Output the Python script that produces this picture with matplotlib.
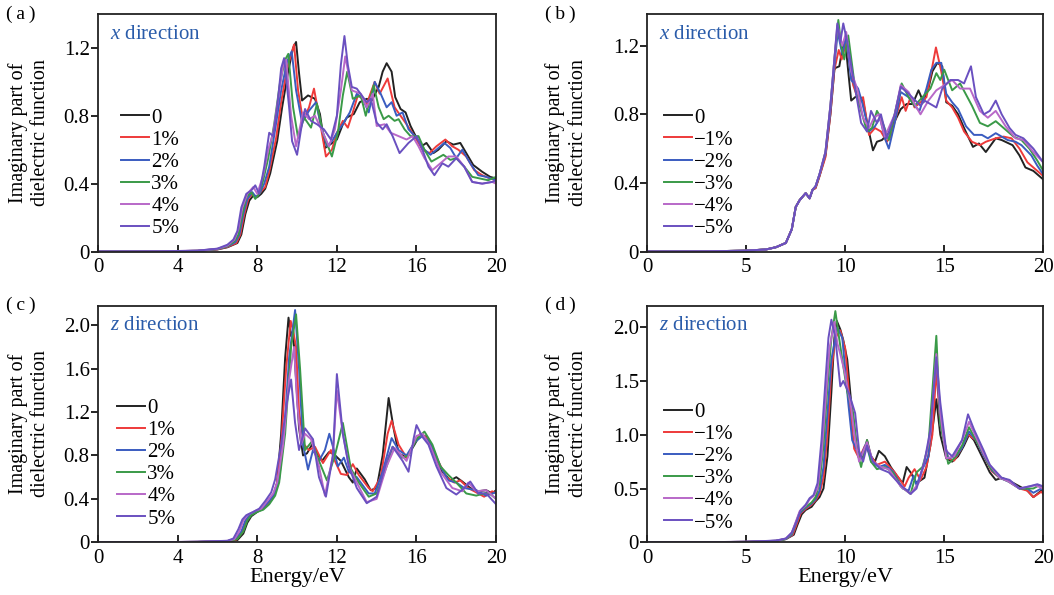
import matplotlib
matplotlib.use('Agg')
from matplotlib import pyplot as plt
from matplotlib.ticker import FuncFormatter

plt.rcParams['font.family'] = ['Liberation Serif', 'DejaVu Serif']
plt.rcParams['mathtext.fontset'] = 'custom'
plt.rcParams['mathtext.rm'] = 'Liberation Serif'
plt.rcParams['mathtext.it'] = 'Liberation Serif:italic'

colors = ['#222222', '#ee3a3a', '#3a5cc0', '#3a9a48', '#b868c8', '#6a50c0']
labels_t = ['0', '1%', '2%', '3%', '4%', '5%']
labels_c = ['0', '\u22121%', '\u22122%', '\u22123%', '\u22124%', '\u22125%']

# (a) x direction, tensile strain
a0 = [(0,0),(3,0.001),(5,0.004),(6,0.012),(6.5,0.025),(7.0,0.05),(7.2,0.1),(7.4,0.22),(7.6,0.3),(7.8,0.33),(8.0,0.32),(8.2,0.34),(8.4,0.37),(8.65,0.46),(9.0,0.65),(9.25,0.85),(9.55,1.06),(9.8,1.2),(9.95,1.235),(10.1,1.05),(10.25,0.89),(10.55,0.92),(10.9,0.9),(11.15,0.81),(11.4,0.61),(11.65,0.63),(12.0,0.66),(12.3,0.75),(12.5,0.79),(12.85,0.81),(13.15,0.88),(13.5,0.9),(13.75,0.89),(14.1,0.97),(14.3,1.06),(14.5,1.11),(14.75,1.06),(14.93,0.91),(15.2,0.84),(15.45,0.82),(15.7,0.74),(16.0,0.67),(16.25,0.62),(16.5,0.64),(16.85,0.58),(17.1,0.6),(17.5,0.65),(17.85,0.63),(18.2,0.64),(18.45,0.59),(18.85,0.51),(19.3,0.47),(19.7,0.44),(20,0.43)]
a1 = [(0,0),(3,0.001),(5,0.004),(6,0.013),(6.5,0.027),(6.95,0.05),(7.15,0.1),(7.35,0.22),(7.55,0.31),(7.75,0.34),(7.95,0.32),(8.15,0.35),(8.4,0.38),(8.6,0.47),(8.95,0.67),(9.2,0.88),(9.5,1.08),(9.85,1.22),(10.05,0.95),(10.3,0.77),(10.6,0.85),(10.85,0.96),(11.1,0.8),(11.45,0.56),(11.75,0.6),(12.0,0.7),(12.3,0.77),(12.55,0.73),(12.8,0.82),(13.05,0.92),(13.3,0.9),(13.5,0.87),(13.9,1.0),(14.15,0.93),(14.55,1.02),(14.9,0.85),(15.2,0.8),(15.5,0.75),(15.9,0.68),(16.3,0.6),(16.65,0.58),(17.0,0.62),(17.45,0.66),(17.8,0.62),(18.1,0.6),(18.5,0.56),(18.9,0.48),(19.3,0.45),(19.7,0.43),(20,0.42)]
a2 = [(0,0),(3,0.001),(5,0.004),(6,0.014),(6.5,0.03),(6.9,0.055),(7.1,0.1),(7.3,0.22),(7.5,0.31),(7.75,0.35),(7.95,0.32),(8.15,0.35),(8.35,0.4),(8.6,0.5),(8.9,0.72),(9.2,0.95),(9.5,1.12),(9.73,1.18),(9.95,0.95),(10.25,0.76),(10.6,0.83),(10.95,0.88),(11.2,0.74),(11.5,0.62),(11.75,0.65),(12.0,0.7),(12.3,0.75),(12.65,0.82),(13.0,0.93),(13.3,0.9),(13.6,0.82),(13.75,0.9),(13.9,1.0),(14.2,0.93),(14.5,0.85),(14.75,0.88),(15.0,0.8),(15.3,0.82),(15.6,0.72),(16.0,0.67),(16.4,0.6),(16.7,0.57),(17.0,0.6),(17.4,0.64),(17.7,0.61),(18.0,0.55),(18.3,0.6),(18.7,0.52),(19.1,0.45),(19.5,0.44),(20,0.42)]
a3 = [(0,0),(3,0.001),(5,0.004),(6,0.015),(6.5,0.032),(6.85,0.06),(7.05,0.1),(7.25,0.22),(7.45,0.32),(7.7,0.35),(7.9,0.31),(8.1,0.34),(8.3,0.42),(8.55,0.55),(8.85,0.75),(9.15,1.0),(9.4,1.13),(9.56,1.165),(9.8,0.85),(10.05,0.67),(10.35,0.79),(10.7,0.73),(11.0,0.87),(11.3,0.7),(11.75,0.56),(12.05,0.7),(12.3,0.92),(12.52,1.06),(12.8,0.9),(13.2,0.92),(13.45,0.8),(13.85,0.98),(14.1,0.85),(14.35,0.78),(14.6,0.8),(14.9,0.77),(15.1,0.78),(15.4,0.72),(15.7,0.68),(16.1,0.68),(16.4,0.6),(16.75,0.53),(17.05,0.55),(17.35,0.57),(17.7,0.54),(18.0,0.55),(18.4,0.5),(18.8,0.44),(19.2,0.43),(19.6,0.42),(20,0.44)]
a4 = [(0,0),(3,0.001),(5,0.005),(6,0.016),(6.5,0.035),(6.85,0.07),(7.05,0.13),(7.25,0.26),(7.5,0.34),(7.8,0.38),(8.0,0.34),(8.3,0.45),(8.55,0.6),(8.8,0.7),(9.05,0.9),(9.3,1.1),(9.45,1.13),(9.7,0.8),(9.95,0.62),(10.3,0.82),(10.6,0.78),(10.9,0.8),(11.3,0.7),(11.6,0.62),(11.9,0.72),(12.2,0.95),(12.42,1.15),(12.75,0.95),(13.2,0.93),(13.5,0.85),(13.8,0.93),(14.0,0.74),(14.4,0.75),(14.7,0.7),(15.1,0.68),(15.5,0.66),(15.8,0.68),(16.1,0.62),(16.4,0.55),(16.8,0.48),(17.2,0.52),(17.6,0.56),(18.0,0.56),(18.4,0.5),(18.8,0.41),(19.3,0.4),(19.8,0.41),(20,0.4)]
a5 = [(0,0),(3,0.001),(5,0.005),(6,0.017),(6.5,0.04),(6.8,0.07),(7.0,0.12),(7.2,0.26),(7.45,0.34),(7.7,0.36),(7.9,0.39),(8.1,0.34),(8.35,0.5),(8.6,0.7),(8.8,0.68),(9.0,0.85),(9.2,1.08),(9.35,1.14),(9.6,0.85),(9.75,0.65),(10.0,0.57),(10.2,0.72),(10.4,0.84),(10.7,0.77),(11.0,0.75),(11.35,0.72),(11.7,0.66),(12.0,0.8),(12.2,1.1),(12.38,1.27),(12.55,1.1),(12.75,0.97),(13.0,0.96),(13.5,0.88),(13.7,0.9),(14.0,0.76),(14.3,0.72),(14.5,0.75),(14.8,0.68),(15.15,0.58),(15.6,0.64),(16.0,0.68),(16.3,0.6),(16.6,0.5),(16.9,0.45),(17.3,0.52),(17.6,0.5),(18.0,0.55),(18.4,0.5),(18.8,0.41),(19.3,0.4),(19.8,0.41),(20,0.42)]

# (b) x direction, compressive strain
b0 = [(0,0),(3,0.001),(5,0.005),(6,0.012),(6.5,0.025),(7.0,0.05),(7.3,0.13),(7.5,0.26),(7.7,0.3),(7.85,0.32),(8.0,0.34),(8.2,0.31),(8.35,0.36),(8.5,0.37),(8.7,0.44),(9.0,0.56),(9.25,0.8),(9.45,1.06),(9.5,1.07),(9.7,1.08),(9.85,1.18),(10.0,1.23),(10.15,1.05),(10.3,0.88),(10.5,0.9),(10.7,0.91),(10.9,0.88),(11.1,0.75),(11.4,0.59),(11.6,0.64),(11.85,0.65),(12.2,0.69),(12.5,0.76),(12.8,0.83),(13.1,0.86),(13.4,0.86),(13.7,0.94),(13.95,0.87),(14.2,0.95),(14.4,1.05),(14.65,1.1),(14.9,1.08),(15.1,0.87),(15.4,0.85),(15.7,0.8),(16.0,0.72),(16.45,0.61),(16.75,0.63),(17.1,0.58),(17.35,0.62),(17.6,0.66),(17.9,0.65),(18.45,0.62),(18.8,0.56),(19.1,0.49),(19.5,0.47),(20,0.42)]
b1 = [(0,0),(3,0.001),(5,0.005),(6,0.012),(6.5,0.025),(7.0,0.05),(7.3,0.13),(7.5,0.26),(7.7,0.3),(7.85,0.32),(8.0,0.34),(8.2,0.31),(8.35,0.36),(8.5,0.37),(8.7,0.44),(9.0,0.55),(9.25,0.8),(9.45,1.06),(9.67,1.175),(9.82,1.12),(10.05,1.22),(10.4,0.97),(10.7,0.87),(10.9,0.9),(11.2,0.68),(11.5,0.72),(11.8,0.7),(12.1,0.64),(12.3,0.67),(12.6,0.8),(12.85,0.9),(13.05,0.82),(13.3,0.9),(13.5,0.84),(13.9,0.88),(14.1,0.9),(14.3,1.02),(14.58,1.19),(14.85,1.05),(15.1,0.88),(15.4,0.84),(15.7,0.78),(16.0,0.7),(16.4,0.64),(16.8,0.62),(17.1,0.64),(17.6,0.66),(18.0,0.67),(18.4,0.66),(18.8,0.6),(19.2,0.52),(19.6,0.48),(20,0.44)]
b2 = [(0,0),(3,0.001),(5,0.005),(6,0.012),(6.5,0.025),(7.0,0.05),(7.3,0.13),(7.5,0.26),(7.7,0.3),(7.85,0.32),(8.0,0.34),(8.2,0.31),(8.35,0.36),(8.5,0.38),(8.7,0.45),(9.0,0.57),(9.25,0.82),(9.45,1.08),(9.62,1.28),(9.85,1.15),(10.05,1.25),(10.3,1.0),(10.65,0.95),(10.85,0.87),(11.2,0.7),(11.5,0.73),(11.75,0.78),(12.0,0.66),(12.2,0.6),(12.5,0.75),(12.8,0.93),(13.2,0.9),(13.5,0.85),(13.75,0.82),(14.1,0.95),(14.35,1.06),(14.6,1.1),(14.85,1.1),(15.1,0.92),(15.4,0.87),(15.7,0.83),(16.1,0.73),(16.5,0.68),(16.9,0.68),(17.2,0.66),(17.6,0.69),(18.2,0.65),(18.6,0.64),(18.9,0.62),(19.4,0.56),(19.7,0.5),(20,0.45)]
b3 = [(0,0),(3,0.001),(5,0.005),(6,0.012),(6.5,0.025),(7.0,0.05),(7.3,0.13),(7.5,0.26),(7.7,0.3),(7.85,0.32),(8.0,0.34),(8.2,0.31),(8.35,0.36),(8.5,0.38),(8.7,0.45),(9.0,0.58),(9.25,0.85),(9.45,1.12),(9.65,1.35),(9.8,1.2),(9.95,1.12),(10.15,1.26),(10.5,0.95),(10.8,0.82),(11.1,0.7),(11.35,0.72),(11.6,0.82),(11.8,0.78),(12.2,0.65),(12.55,0.83),(12.85,0.98),(13.2,0.9),(13.5,0.85),(13.9,0.9),(14.3,0.95),(14.6,1.04),(14.8,1.0),(15.0,1.06),(15.4,0.94),(15.8,0.98),(16.4,0.85),(16.8,0.75),(17.2,0.73),(17.6,0.76),(18.0,0.72),(18.5,0.67),(18.9,0.65),(19.3,0.6),(19.7,0.53),(20,0.47)]
b4 = [(0,0),(3,0.001),(5,0.005),(6,0.012),(6.5,0.025),(7.0,0.05),(7.3,0.13),(7.5,0.26),(7.7,0.3),(7.85,0.32),(8.0,0.34),(8.2,0.31),(8.35,0.36),(8.5,0.38),(8.7,0.45),(9.0,0.58),(9.25,0.85),(9.45,1.12),(9.6,1.32),(9.85,1.2),(10.05,1.28),(10.3,1.05),(10.6,0.95),(10.9,0.78),(11.2,0.72),(11.45,0.78),(11.7,0.8),(12.0,0.67),(12.5,0.8),(12.8,0.97),(13.2,0.93),(13.5,0.86),(13.8,0.8),(14.2,0.88),(14.6,0.94),(15.0,0.97),(15.4,1.0),(15.8,0.95),(16.3,0.95),(16.8,0.82),(17.2,0.78),(17.6,0.82),(18.1,0.73),(18.6,0.66),(19.0,0.65),(19.5,0.58),(20,0.52)]
b5 = [(0,0),(3,0.001),(5,0.005),(6,0.012),(6.5,0.025),(7.0,0.05),(7.3,0.13),(7.5,0.26),(7.7,0.3),(7.85,0.32),(8.0,0.34),(8.2,0.31),(8.35,0.36),(8.5,0.38),(8.7,0.45),(9.0,0.58),(9.25,0.85),(9.45,1.12),(9.6,1.33),(9.75,1.22),(9.9,1.33),(10.1,1.22),(10.5,0.95),(10.8,0.75),(11.1,0.7),(11.3,0.82),(11.6,0.75),(11.8,0.8),(12.1,0.66),(12.5,0.8),(12.8,0.96),(13.2,0.92),(13.8,0.85),(14.0,0.88),(14.6,0.84),(14.9,0.95),(15.3,1.0),(15.7,1.0),(16.0,0.98),(16.35,1.08),(16.6,0.9),(17.0,0.8),(17.3,0.82),(17.6,0.88),(17.9,0.8),(18.3,0.72),(18.6,0.68),(19.0,0.66),(19.5,0.6),(20,0.52)]

# (c) z direction, tensile strain
c0 = [(0,0),(3,0.001),(5,0.003),(6.5,0.008),(7.0,0.02),(7.3,0.08),(7.5,0.18),(7.7,0.24),(8.0,0.28),(8.3,0.31),(8.6,0.36),(8.8,0.42),(9.0,0.55),(9.2,1.0),(9.4,1.7),(9.57,2.07),(9.7,1.9),(9.8,1.95),(9.95,1.5),(10.1,1.05),(10.3,0.8),(10.5,0.82),(10.75,0.9),(11.0,0.82),(11.25,0.75),(11.6,0.83),(11.8,0.82),(12.2,0.75),(12.6,0.6),(12.8,0.55),(13.0,0.68),(13.4,0.58),(13.7,0.48),(14.0,0.5),(14.3,0.8),(14.6,1.33),(14.85,1.05),(15.1,0.82),(15.5,0.78),(15.9,0.9),(16.2,1.0),(16.5,0.97),(16.9,0.8),(17.3,0.65),(17.7,0.57),(18.0,0.6),(18.3,0.56),(18.7,0.5),(19.1,0.47),(19.5,0.48),(19.8,0.45),(20,0.48)]
c1 = [(0,0),(3,0.001),(5,0.004),(6.5,0.01),(6.95,0.025),(7.25,0.09),(7.45,0.19),(7.65,0.25),(8.0,0.29),(8.3,0.31),(8.6,0.37),(8.8,0.43),(9.0,0.55),(9.2,0.9),(9.45,1.6),(9.68,2.04),(9.8,1.95),(9.95,1.8),(10.1,1.2),(10.35,0.9),(10.6,0.85),(10.9,0.88),(11.3,0.73),(11.7,0.85),(11.9,0.75),(12.2,0.63),(12.5,0.62),(12.8,0.72),(13.1,0.62),(13.6,0.5),(13.8,0.47),(14.2,0.6),(14.55,1.0),(14.75,1.12),(15.1,0.9),(15.5,0.78),(15.9,0.92),(16.2,1.0),(16.6,0.95),(17.0,0.78),(17.5,0.6),(17.9,0.55),(18.2,0.57),(18.6,0.5),(19.0,0.46),(19.4,0.42),(19.8,0.47),(20,0.45)]
c2 = [(0,0),(3,0.001),(5,0.004),(6.5,0.011),(6.9,0.03),(7.2,0.1),(7.4,0.2),(7.6,0.25),(8.0,0.29),(8.3,0.32),(8.6,0.38),(8.85,0.44),(9.1,0.58),(9.35,1.0),(9.6,1.7),(9.9,2.14),(10.1,1.6),(10.3,0.9),(10.55,0.67),(10.8,0.85),(11.1,0.75),(11.4,0.85),(11.62,1.0),(11.85,0.85),(12.05,0.7),(12.35,0.78),(12.6,0.65),(13.0,0.6),(13.6,0.45),(13.9,0.45),(14.3,0.65),(14.75,0.96),(15.1,0.85),(15.5,0.8),(15.9,0.92),(16.3,0.98),(16.7,0.92),(17.2,0.7),(17.6,0.57),(18.0,0.55),(18.4,0.5),(19.0,0.48),(19.5,0.43),(20,0.46)]
c3 = [(0,0),(3,0.001),(5,0.004),(6.5,0.01),(7.0,0.03),(7.3,0.1),(7.5,0.2),(7.7,0.25),(8.0,0.28),(8.3,0.3),(8.6,0.35),(8.9,0.43),(9.1,0.55),(9.4,1.0),(9.7,1.8),(9.95,2.1),(10.15,1.6),(10.4,0.85),(10.75,0.93),(11.1,0.75),(11.5,0.57),(11.9,0.8),(12.3,1.1),(12.7,0.68),(13.1,0.55),(13.6,0.42),(14.0,0.45),(14.5,0.7),(14.8,0.88),(15.3,0.78),(15.6,0.8),(16.0,0.95),(16.4,1.02),(16.8,0.9),(17.2,0.7),(17.6,0.62),(18.0,0.55),(18.5,0.45),(19.0,0.43),(19.6,0.46),(20,0.4)]
c4 = [(0,0),(3,0.001),(5,0.005),(6.5,0.013),(6.85,0.03),(7.1,0.1),(7.3,0.2),(7.5,0.25),(7.9,0.29),(8.2,0.31),(8.5,0.38),(8.8,0.45),(9.0,0.55),(9.3,0.9),(9.6,1.5),(9.85,1.8),(10.0,1.3),(10.2,0.9),(10.4,1.0),(10.7,0.95),(11.1,0.7),(11.4,0.43),(11.8,0.8),(12.0,1.4),(12.3,1.0),(12.6,0.7),(13.0,0.55),(13.5,0.37),(14.0,0.4),(14.5,0.7),(14.9,0.87),(15.5,0.75),(16.0,0.98),(16.3,1.0),(16.7,0.88),(17.2,0.65),(17.8,0.5),(18.3,0.47),(18.6,0.55),(19.0,0.47),(19.5,0.48),(20,0.4)]
c5 = [(0,0),(3,0.001),(5,0.005),(6.5,0.014),(6.8,0.035),(7.05,0.12),(7.25,0.21),(7.45,0.25),(7.8,0.28),(8.1,0.31),(8.4,0.38),(8.7,0.46),(8.9,0.58),(9.2,0.9),(9.5,1.3),(9.7,1.5),(9.9,1.1),(10.1,0.85),(10.4,1.05),(10.8,0.95),(11.1,0.6),(11.45,0.42),(11.8,0.8),(12.0,1.55),(12.3,1.0),(12.6,0.7),(13.0,0.5),(13.5,0.36),(14.0,0.42),(14.5,0.75),(14.8,0.88),(15.3,0.75),(15.6,0.65),(15.85,0.95),(16.0,1.08),(16.3,0.97),(16.6,0.9),(17.0,0.7),(17.5,0.5),(18.0,0.44),(18.4,0.5),(18.7,0.56),(19.1,0.45),(19.5,0.45),(20,0.35)]

# (d) z direction, compressive strain
d0 = [(0,0),(3,0.001),(5,0.004),(6.5,0.012),(7.0,0.03),(7.4,0.07),(7.6,0.17),(7.8,0.26),(8.0,0.3),(8.3,0.33),(8.5,0.38),(8.7,0.42),(8.9,0.5),(9.1,0.8),(9.3,1.4),(9.45,1.9),(9.57,2.06),(9.75,1.98),(9.9,1.88),(10.1,1.7),(10.3,1.3),(10.6,0.85),(10.9,0.78),(11.1,0.95),(11.3,0.8),(11.5,0.75),(11.7,0.85),(12.0,0.8),(12.3,0.7),(12.6,0.62),(12.9,0.55),(13.1,0.7),(13.3,0.65),(13.6,0.55),(14.0,0.6),(14.3,0.9),(14.6,1.33),(14.8,1.0),(15.1,0.78),(15.4,0.75),(15.7,0.8),(16.0,0.9),(16.25,1.0),(16.5,0.95),(16.9,0.8),(17.3,0.65),(17.6,0.58),(17.9,0.6),(18.3,0.57),(18.8,0.52),(19.2,0.48),(19.5,0.42),(19.9,0.48),(20,0.46)]
d1 = [(0,0),(3,0.001),(5,0.004),(6.5,0.013),(7.0,0.03),(7.35,0.07),(7.55,0.17),(7.75,0.27),(8.0,0.31),(8.3,0.35),(8.5,0.39),(8.7,0.45),(8.9,0.6),(9.1,1.0),(9.3,1.6),(9.5,1.9),(9.75,1.97),(10.0,1.8),(10.25,1.25),(10.45,0.87),(10.7,0.78),(11.0,0.9),(11.3,0.8),(11.6,0.72),(12.0,0.75),(12.5,0.65),(13.0,0.52),(13.2,0.6),(13.5,0.68),(13.8,0.58),(14.1,0.7),(14.4,1.0),(14.6,1.6),(14.8,1.1),(15.2,0.78),(15.5,0.76),(15.8,0.85),(16.2,1.0),(16.6,0.95),(17.0,0.8),(17.4,0.66),(17.8,0.6),(18.3,0.57),(18.8,0.5),(19.2,0.48),(19.5,0.42),(19.9,0.47),(20,0.45)]
d2 = [(0,0),(3,0.001),(5,0.004),(6.5,0.014),(7.0,0.03),(7.3,0.07),(7.5,0.17),(7.7,0.27),(8.0,0.32),(8.3,0.36),(8.5,0.4),(8.7,0.48),(8.9,0.7),(9.1,1.2),(9.3,1.7),(9.6,2.0),(9.85,1.9),(10.15,1.3),(10.35,0.95),(10.6,0.85),(10.8,0.8),(11.05,0.92),(11.3,0.75),(11.7,0.7),(12.0,0.72),(12.4,0.66),(12.9,0.5),(13.2,0.48),(13.45,0.62),(13.6,0.53),(13.9,0.68),(14.2,0.8),(14.6,1.75),(14.8,1.1),(15.2,0.78),(15.6,0.8),(15.9,0.88),(16.25,1.03),(16.6,0.95),(17.0,0.8),(17.4,0.67),(17.8,0.6),(18.3,0.56),(18.8,0.5),(19.2,0.5),(19.5,0.46),(19.9,0.5),(20,0.48)]
d3 = [(0,0),(3,0.001),(5,0.004),(6.5,0.014),(7.0,0.03),(7.3,0.08),(7.5,0.18),(7.7,0.28),(8.0,0.33),(8.3,0.37),(8.5,0.42),(8.7,0.55),(8.9,0.9),(9.1,1.45),(9.3,1.9),(9.5,2.15),(9.65,1.95),(9.85,1.7),(10.1,1.4),(10.4,1.2),(10.6,0.85),(10.8,0.7),(11.1,0.95),(11.3,0.75),(11.6,0.68),(12.0,0.7),(12.4,0.65),(12.8,0.52),(13.3,0.45),(13.6,0.65),(13.9,0.7),(14.2,0.9),(14.6,1.92),(14.8,1.1),(15.2,0.73),(15.5,0.78),(15.9,0.9),(16.25,1.07),(16.6,0.95),(17.0,0.82),(17.3,0.7),(17.8,0.6),(18.2,0.57),(18.8,0.5),(19.2,0.5),(19.5,0.5),(19.8,0.53),(20,0.5)]
d4 = [(0,0),(3,0.001),(5,0.005),(6.5,0.015),(7.0,0.035),(7.3,0.09),(7.5,0.19),(7.7,0.29),(8.0,0.34),(8.2,0.4),(8.4,0.43),(8.6,0.5),(8.8,0.8),(9.0,1.3),(9.2,1.8),(9.45,2.05),(9.6,1.85),(9.75,1.75),(9.95,1.6),(10.3,1.25),(10.5,0.95),(10.7,0.75),(11.1,0.93),(11.4,0.75),(11.8,0.7),(12.2,0.68),(12.8,0.52),(13.3,0.45),(13.7,0.55),(14.0,0.75),(14.3,1.0),(14.6,1.75),(14.8,1.2),(15.1,0.78),(15.5,0.8),(15.9,0.95),(16.25,1.12),(16.6,0.98),(17.0,0.82),(17.3,0.72),(17.8,0.6),(18.2,0.57),(18.8,0.5),(19.3,0.52),(19.6,0.53),(20,0.5)]
d5 = [(0,0),(3,0.001),(5,0.005),(6.5,0.016),(7.0,0.035),(7.3,0.09),(7.55,0.2),(7.75,0.3),(8.0,0.35),(8.2,0.41),(8.4,0.44),(8.6,0.55),(8.8,0.95),(9.0,1.5),(9.15,1.9),(9.3,2.07),(9.5,1.9),(9.75,1.45),(9.9,1.5),(10.2,1.38),(10.5,1.2),(10.7,0.85),(10.9,0.75),(11.1,0.9),(11.4,0.75),(11.8,0.68),(12.2,0.65),(12.7,0.55),(13.0,0.5),(13.3,0.45),(13.6,0.5),(14.0,0.75),(14.3,1.05),(14.6,1.72),(14.8,1.3),(15.1,0.85),(15.4,0.8),(15.9,0.95),(16.2,1.19),(16.5,1.05),(17.0,0.85),(17.3,0.72),(17.9,0.6),(18.3,0.58),(18.8,0.5),(19.3,0.52),(19.7,0.54),(20,0.52)]

panels = [
    dict(tag='(\u2009a\u2009)', curves=[a0, a1, a2, a3, a4, a5], labels=labels_t, dirn='$x$ direction',
         pos=[0.093, 0.5773, 0.3777, 0.3992], ylim=1.4, yt=[0, 0.4, 0.8, 1.2], xt=[0, 4, 8, 12, 16, 20],
         leg=(0.058, 0.33), ylab=-0.12, tagxy=(0.006, 0.9765), xlab=False),
    dict(tag='(\u2009b\u2009)', curves=[b0, b1, b2, b3, b4, b5], labels=labels_c, dirn='$x$ direction',
         pos=[0.6141, 0.5773, 0.3757, 0.3992], ylim=1.385, yt=[0, 0.4, 0.8, 1.2], xt=[0, 5, 10, 15, 20],
         leg=(0.042, 0.33), ylab=-0.15, tagxy=(0.517, 0.9765), xlab=False),
    dict(tag='(\u2009c\u2009)', curves=[c0, c1, c2, c3, c4, c5], labels=labels_t, dirn='$z$ direction',
         pos=[0.093, 0.0886, 0.3777, 0.3976], ylim=2.18, yt=[0, 0.4, 0.8, 1.2, 1.6, 2.0], xt=[0, 4, 8, 12, 16, 20],
         leg=(0.048, 0.333), ylab=-0.12, tagxy=(0.006, 0.4874), xlab=True),
    dict(tag='(\u2009d\u2009)', curves=[d0, d1, d2, d3, d4, d5], labels=labels_c, dirn='$z$ direction',
         pos=[0.6141, 0.0886, 0.3757, 0.3976], ylim=2.2, yt=[0, 0.5, 1.0, 1.5, 2.0], xt=[0, 5, 10, 15, 20],
         leg=(0.042, 0.316), ylab=-0.15, tagxy=(0.517, 0.4874), xlab=True),
]

fmt = FuncFormatter(lambda v, p: '0' if abs(v) < 1e-9 else '%.1f' % v)

fig = plt.figure(figsize=(10.54, 5.95), dpi=100)
for p in panels:
    ax = fig.add_axes(p['pos'])
    for pts, col, lab in zip(p['curves'], colors, p['labels']):
        x = [q[0] for q in pts]
        y = [q[1] for q in pts]
        ax.plot(x, y, color=col, lw=1.4, label=lab)
    ax.set_xlim(0, 20)
    ax.set_ylim(0, p['ylim'])
    ax.set_xticks(p['xt'])
    ax.set_yticks(p['yt'])
    ax.yaxis.set_major_formatter(fmt)
    ax.tick_params(axis='x', direction='in', length=5, width=1.2, labelsize=15, pad=5)
    ax.tick_params(axis='y', direction='out', length=5, width=1.2, labelsize=15, pad=1)
    for s in ax.spines.values():
        s.set_linewidth(1.3)
        s.set_color('#222222')
    ax.set_ylabel('Imaginary part of\ndielectric function', fontsize=14.5, linespacing=1.25)
    ax.yaxis.set_label_coords(p['ylab'], 0.5)
    ax.text(0.03, 0.915, p['dirn'], transform=ax.transAxes, color='#2a5caa', fontsize=15, va='center')
    ax.legend(loc='center left', bbox_to_anchor=p['leg'], frameon=False, fontsize=15,
              handlelength=1.35, handletextpad=0.1, labelspacing=0.12, borderpad=0, borderaxespad=0)
    if p['xlab']:
        ax.set_xlabel('Energy/eV', fontsize=16, labelpad=0)
    fig.text(p['tagxy'][0], p['tagxy'][1], p['tag'], fontsize=14, va='center', ha='left')

fig.savefig('out.png', dpi=100)
